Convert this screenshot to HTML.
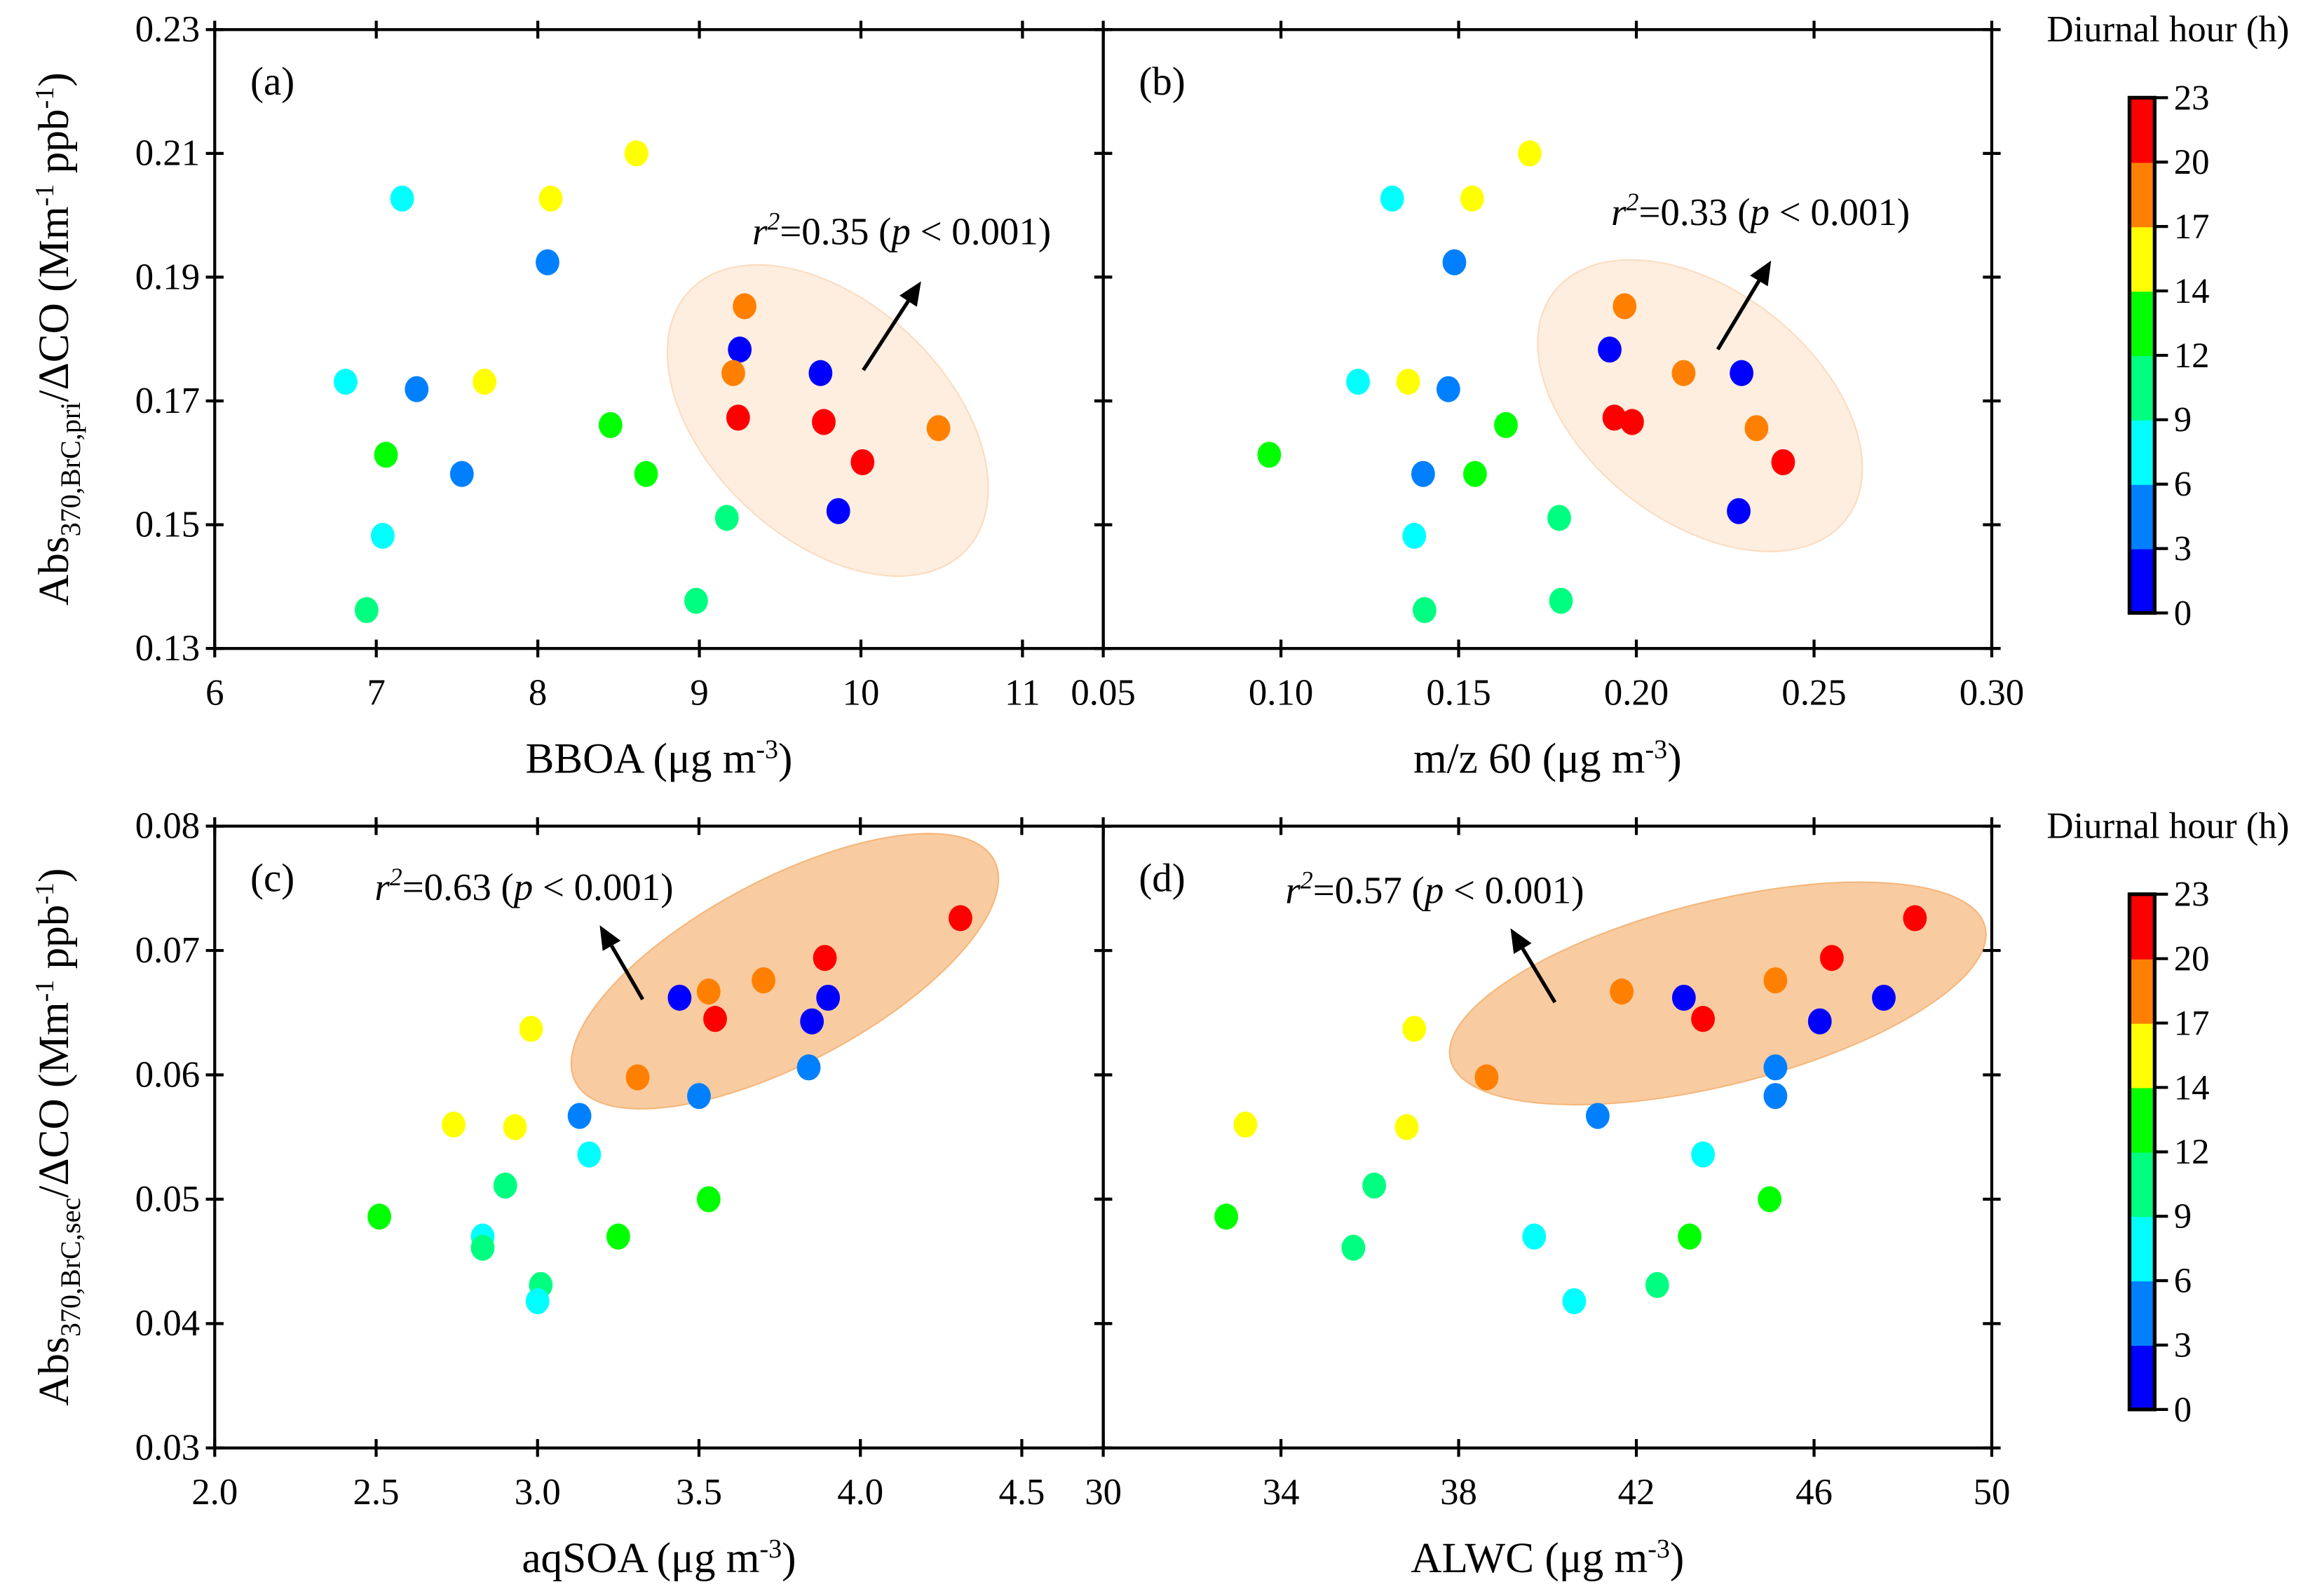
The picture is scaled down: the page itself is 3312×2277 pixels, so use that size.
<!DOCTYPE html>
<html><head><meta charset="utf-8"><style>
html,body{margin:0;padding:0;background:#fff}
svg{display:block}
text{font-family:"Liberation Serif",serif;fill:#000}
</style></head><body>
<svg id="chart" xmlns="http://www.w3.org/2000/svg" width="3312" height="2277" viewBox="0 0 1568 1078">
<g id="root"></g>
</svg>
<script>
// hour colour index: 1 blue,4 blue6,7 cyan,10 teal,13 green,15 yellow,18 orange,21 red
const binLabels=[0,3,6,9,12,14,17,20,23];
const binColors=['#0000ff','#0080ff','#00ffff','#00ff80','#00ff00','#ffff00','#ff8000','#ff0000'];

const aX=[7.16,8.08,8.61,8.06,6.81,7.25,7.67,7.06,7.53,7.04,6.94,8.45,8.67,9.17,8.98,9.28,9.25,9.21,9.24,9.75,9.77,10.01,9.86,10.48];
const aY=[0.2027,0.2027,0.210,0.1924,0.1731,0.1719,0.1731,0.1613,0.1582,0.1482,0.1362,0.1661,0.1582,0.1511,0.1377,0.1853,0.1783,0.1745,0.1673,0.1745,0.1666,0.1601,0.1522,0.1656];
const aH=[7,15,15,4,7,4,15,13,4,7,10,13,13,10,10,18,1,18,21,1,21,21,1,18];

const bX=[0.1313,0.1538,0.170,0.1488,0.1217,0.1358,0.1471,0.0967,0.1633,0.140,0.1546,0.1375,0.1404,0.1783,0.1788,0.1967,0.1925,0.2133,0.2296,0.1938,0.1988,0.2338,0.2413,0.2288];
const bY=[0.2027,0.2027,0.210,0.1924,0.1731,0.1731,0.1719,0.1613,0.1661,0.1582,0.1582,0.1482,0.1362,0.1511,0.1377,0.1853,0.1783,0.1745,0.1745,0.1673,0.1666,0.1656,0.1601,0.1522];
const bH=[7,15,15,4,7,15,4,13,13,4,13,7,10,10,10,18,1,18,1,21,21,18,21,1];

const cX=[2.51,2.83,2.83,2.90,2.74,2.93,2.98,3.01,3.00,3.13,3.16,3.25,3.53,3.50,3.31,3.44,3.53,3.55,3.70,3.84,3.85,3.89,3.90,4.31];
const cY=[0.0486,0.0470,0.0461,0.0511,0.0560,0.0558,0.0637,0.0431,0.0418,0.0567,0.0536,0.0470,0.0500,0.0583,0.0598,0.0662,0.0667,0.0645,0.0676,0.0606,0.0643,0.0694,0.0662,0.0726];
const cH=[13,7,10,10,15,15,15,10,7,4,7,13,13,4,18,1,18,21,18,4,1,21,1,21];

const dX=[32.77,35.63,36.1,33.2,36.83,37.0,38.63,39.7,40.6,41.13,41.67,42.47,43.2,43.07,43.5,43.5,45.0,45.13,45.13,45.13,46.13,46.4,47.57,48.27];
const dY=[0.0486,0.0461,0.0511,0.0560,0.0558,0.0637,0.0598,0.0470,0.0418,0.0567,0.0667,0.0431,0.0470,0.0662,0.0645,0.0536,0.0500,0.0676,0.0606,0.0583,0.0643,0.0694,0.0662,0.0726];
const dH=[13,10,10,15,15,15,18,7,7,4,18,10,13,1,21,7,13,18,4,4,1,21,1,21];

const aXTicks=[6,7,8,9,10,11], bXTicks=['0.05','0.10','0.15','0.20','0.25','0.30'];
const cXTicks=['2.0','2.5','3.0','3.5','4.0','4.5'], dXTicks=[30,34,38,42,46,50];
const topYTicks=['0.13','0.15','0.17','0.19','0.21','0.23'], botYTicks=['0.03','0.04','0.05','0.06','0.07','0.08'];

const NS='http://www.w3.org/2000/svg';
const root=document.getElementById('root');
function mk(tag,attrs,parent){const e=document.createElementNS(NS,tag);for(const k in attrs)e.setAttribute(k,attrs[k]);(parent||root).appendChild(e);return e;}
function colorOf(h){let i=0;for(let k=0;k<8;k++){if(h>=binLabels[k])i=k;}return binColors[i];}
function lin(d0,d1,r0,r1){return v=>r0+(v-d0)/(d1-d0)*(r1-r0);}

function panel(id,x0,x1,y0,y1,xd,yd,xTicks,yTicks,xs,ys,hs,ell,ann,arrow,leftAxis,letter,xlabel){
  const g=mk('g',{});
  
  
  const sx=lin(xd[0],xd[1],x0,x1), sy=lin(yd[0],yd[1],y1,y0);
  const e=mk('ellipse',{cx:ell[0],cy:ell[1],rx:ell[2],ry:ell[3],transform:`rotate(${ell[4]} ${ell[0]} ${ell[1]})`,fill:ell[5],stroke:ell[6],'stroke-width':1},g);
  
  
  for(let i=0;i<xs.length;i++){
    const c=mk('ellipse',{cx:sx(+xs[i]),cy:sy(+ys[i]),rx:8,ry:8.8,fill:colorOf(hs[i])},g);
    
    
  }
  mk('rect',{x:x0,y:y0,width:x1-x0,height:y1-y0,fill:'none',stroke:'#000','stroke-width':2},g);
  xTicks.forEach(t=>{const x=sx(+t);
    mk('line',{x1:x,x2:x,y1:y1-6,y2:y1+6,stroke:'#000','stroke-width':2},g);
    mk('line',{x1:x,x2:x,y1:y0-6,y2:y0+6,stroke:'#000','stroke-width':2},g);
    const tx=mk('text',{x:x,y:y1+38,'text-anchor':'middle','font-size':25},g);tx.textContent=t;
    
    
  });
  yTicks.forEach(t=>{const y=sy(+t);
    mk('line',{x1:x0-6,x2:x0+6,y1:y,y2:y,stroke:'#000','stroke-width':2},g);
    mk('line',{x1:x1-6,x2:x1+6,y1:y,y2:y,stroke:'#000','stroke-width':2},g);
    if(leftAxis){const ty=mk('text',{x:x0-10,y:y+8,'text-anchor':'end','font-size':25},g);ty.textContent=t;
      
      }
  });
  const l=mk('text',{x:x0+24,y:y0+44,'font-size':27},g);l.textContent=letter;
  
  
  const xl=mk('text',{x:(x0+x1)/2,y:y1+84,'text-anchor':'middle','font-size':29},g);xl.innerHTML=xlabel;
  
  
  const at=mk('text',{x:ann[0],y:ann[1],'font-size':26},g);
  at.innerHTML=`<tspan font-style="italic">r</tspan><tspan dy="-10" font-size="17" font-style="italic">2</tspan><tspan dy="10">=${ann[2]} (</tspan><tspan font-style="italic">p</tspan><tspan> &lt; 0.001)</tspan>`;
  
  
  const [ax1,ay1,ax2,ay2]=arrow;const ang=Math.atan2(ay2-ay1,ax2-ax1);
  const hx=ax2-16*Math.cos(ang),hy=ay2-16*Math.sin(ang);
  mk('line',{x1:ax1,y1:ay1,x2:hx,y2:hy,stroke:'#000','stroke-width':2.5},g);
  const p=mk('polygon',{points:`${ax2},${ay2} ${hx+7*Math.sin(ang)},${hy-7*Math.cos(ang)} ${hx-7*Math.sin(ang)},${hy+7*Math.cos(ang)}`,fill:'#000'},g);
  
  
}
panel('a',145,745,20,438,[6,11.5],[0.13,0.23],aXTicks,topYTicks,aX,aY,aH,[559,284,128,80,43,'#fdeee0','#fbdcc0'],[508,165,'0.35'],[583,250,622,190],true,'(a)','BBOA (μg m<tspan dy="-10" font-size="18">-3</tspan><tspan dy="10">)</tspan>');
panel('b',745,1345,20,438,[0.05,0.30],[0.13,0.23],bXTicks,topYTicks,bX,bY,bH,[1148,274,125,78,38,'#fdeee0','#fbdcc0'],[1088,152,'0.33'],[1160,236,1196,176],false,'(b)','m/z 60 (μg m<tspan dy="-10" font-size="18">-3</tspan><tspan dy="10">)</tspan>');
panel('c',145,745,558,978,[2.0,4.7523],[0.03,0.08],cXTicks,botYTicks,cX,cY,cH,[530,656,160,62,-28,'#f9cba0','#f4b77c'],[253,608,'0.63'],[434,675,405,625],true,'(c)','aqSOA (μg m<tspan dy="-10" font-size="18">-3</tspan><tspan dy="10">)</tspan>');
panel('d',745,1345,558,978,[30,50],[0.03,0.08],dXTicks,botYTicks,dX,dY,dH,[1160,671,186,62,-14,'#f9cba0','#f4b77c'],[868,610,'0.57'],[1050,677,1020,627],false,'(d)','ALWC (μg m<tspan dy="-10" font-size="18">-3</tspan><tspan dy="10">)</tspan>');

function yTitle(cy,sub,name){
  const t=mk('text',{x:0,y:0,'text-anchor':'middle','font-size':29,transform:`translate(46 ${cy}) rotate(-90)`});
  t.innerHTML=`Abs<tspan dy="8" font-size="19">370,BrC,${sub}</tspan><tspan dy="-8">/ΔCO (Mm</tspan><tspan dy="-10" font-size="18">-1</tspan><tspan dy="10"> ppb</tspan><tspan dy="-10" font-size="18">-1</tspan><tspan dy="10">)</tspan>`;
  
  
}
yTitle(229,'pri','y-axis-title-top');
yTitle(768,'sec','y-axis-title-bottom');

function colorbar(top,name,titleY){
  const g=mk('g',{});
  
  
  const x=1438,w=17,h=348,step=h/8;
  for(let k=0;k<8;k++){mk('rect',{x:x,y:top+h-(k+1)*step,width:w,height:step+0.5,fill:binColors[k]},g);}
  mk('rect',{x:x,y:top,width:w,height:h,fill:'none',stroke:'#000','stroke-width':2.5},g);
  binLabels.forEach((lab,k)=>{const y=top+h-k*step;
    mk('line',{x1:x+w,x2:x+w+9,y1:y,y2:y,stroke:'#000','stroke-width':2},g);
    const t=mk('text',{x:x+w+13,y:y+8,'font-size':24},g);t.textContent=lab;
    
    });
  const tt=mk('text',{x:1464,y:titleY,'text-anchor':'middle','font-size':25},g);tt.textContent='Diurnal hour (h)';
  
  
}
colorbar(66,'colorbar-top',28);
colorbar(604,'colorbar-bottom',566);
</script>
</body></html>
